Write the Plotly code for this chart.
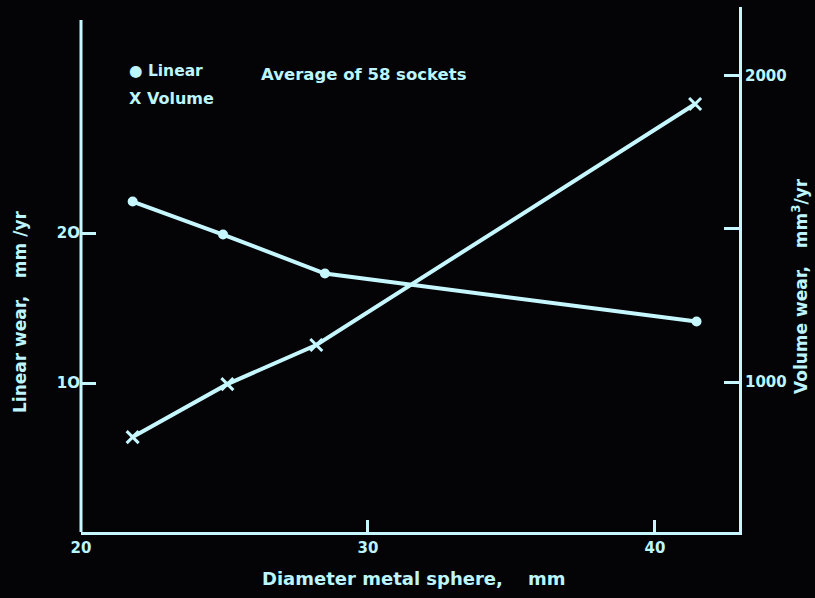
import plotly.graph_objects as go

# Data
linear_x = [21.8, 24.95, 28.5, 41.45]
linear_wear = [22.1, 19.9, 17.3, 14.1]
volume_x = [21.8, 25.1, 28.2, 41.4]
volume_wear = [820, 993, 1121, 1908]

x_ticks = [20, 30, 40]
x_tick_labels = ["20", "30", "40"]
left_ticks = [10, 20]
left_tick_labels = ["1O", "2O"]
right_ticks = [1000, 2000]
right_tick_labels = ["1000", "2000"]
right_minor_ticks = [1500]

FG = "#bdf5ff"
LINE = "#c6f7ff"
BG = "#040406"
FONT = "DejaVu Sans"

fig = go.Figure()
fig.add_trace(go.Scatter(
    x=linear_x, y=linear_wear, mode="lines+markers", name="Linear",
    line=dict(color=LINE, width=4),
    marker=dict(symbol="circle", size=10, color=LINE),
    yaxis="y", showlegend=False))
fig.add_trace(go.Scatter(
    x=volume_x, y=volume_wear, mode="lines+markers", name="Volume",
    line=dict(color=LINE, width=4),
    marker=dict(symbol="x-thin", size=12, color=LINE, line=dict(color=LINE, width=3)),
    yaxis="y2", showlegend=False))

W, H = 815, 598
L, R, T, B = 81, 76, 7, 66
ph = H - T - B

tf = dict(size=15, color=FG, family=FONT, weight="bold")

fig.update_layout(
    width=W, height=H,
    margin=dict(l=L, r=R, t=T, b=B),
    paper_bgcolor=BG, plot_bgcolor=BG,
    font=dict(family=FONT, color=FG, size=15),
    xaxis=dict(range=[20, 42.93], tickvals=x_ticks, ticktext=x_tick_labels,
               ticks="inside", ticklen=12, tickwidth=3, tickcolor=LINE,
               showline=True, linecolor=LINE, linewidth=3, showgrid=False,
               zeroline=False, tickfont=tf),
    yaxis=dict(range=[0.07, 35.07], tickvals=left_ticks, ticktext=left_tick_labels,
               ticks="inside", ticklen=15, tickwidth=3, tickcolor=LINE,
               showline=False, showgrid=False, zeroline=False, tickfont=tf),
    yaxis2=dict(range=[510, 2225], overlaying="y", side="right",
                tickvals=right_ticks, ticktext=right_tick_labels,
                ticks="inside", ticklen=15, tickwidth=3, tickcolor=LINE,
                minor=dict(tickvals=right_minor_ticks, ticks="inside", ticklen=15,
                           tickwidth=3, tickcolor=LINE, showgrid=False),
                showline=True, linecolor=LINE, linewidth=3, showgrid=False,
                zeroline=False, tickfont=tf),
)

# left axis line (shorter than the right one)
fig.add_shape(type="line", xref="paper", yref="paper", x0=0, x1=0,
              y0=0, y1=(532 - 20) / ph, line=dict(color=LINE, width=3))

def ann(text, x, y, size=15, angle=0, xanchor="center"):
    fig.add_annotation(text=text, xref="paper", yref="paper",
                       x=(x - L) / (W - L - R), y=(H - B - y) / ph,
                       showarrow=False, textangle=angle, xanchor=xanchor,
                       yanchor="middle",
                       font=dict(size=size, color=FG, family=FONT, weight="bold"))

ann("Diameter metal sphere,    mm", 414, 578, size=18)
ann("Linear wear,   mm /yr", 20, 312, size=17, angle=-90)
ann("Volume wear,   mm<sup>3</sup>/yr", 800, 286, size=17, angle=-90)
ann("Average of 58 sockets", 259, 74, size=16.5, xanchor="left")
ann("● Linear", 127, 71, size=15.5, xanchor="left")
ann("X Volume", 127, 98, size=16, xanchor="left")

fig.write_html("out.html", config={"displayModeBar": False},
               post_script="document.body.style.margin='0';")
